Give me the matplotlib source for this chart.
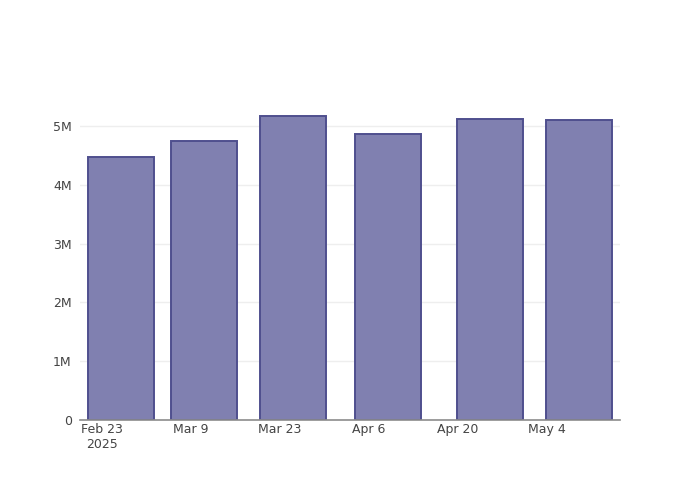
import datetime as dt
import matplotlib
matplotlib.use("Agg")
import matplotlib.pyplot as plt
import matplotlib.dates as mdates

# data
dates = ["2025-02-26", "2025-03-11", "2025-03-25", "2025-04-09", "2025-04-25", "2025-05-09"]
values = [4.47e6, 4.745e6, 5.17e6, 4.864e6, 5.12e6, 5.10e6]
tick_dates = ["2025-02-23", "2025-03-09", "2025-03-23", "2025-04-06", "2025-04-20", "2025-05-04"]
tick_labels = ["Feb 23\n2025", "Mar 9", "Mar 23", "Apr 6", "Apr 20", "May 4"]
y_ticks = [0, 1e6, 2e6, 3e6, 4e6, 5e6]
y_labels = ["0", "1M", "2M", "3M", "4M", "5M"]

x = [dt.datetime.fromisoformat(d) for d in dates]
xt = [dt.datetime.fromisoformat(d) for d in tick_dates]

fig = plt.figure(figsize=(7, 5), dpi=100)
ax = fig.add_axes([80 / 700, 80 / 500, 540 / 700, 320 / 500])

ax.bar(x, values, width=10.4, color="#8080b0", edgecolor="#4f4f8e", linewidth=1.4, zorder=3)

# axes styling
ax.set_ylim(0, 5.44e6)
ax.set_xlim(xt[0] - dt.timedelta(days=3.46), xt[0] + dt.timedelta(days=81.5))
ax.set_yticks(y_ticks)
ax.set_yticklabels(y_labels)
ax.set_xticks(xt)
ax.set_xticklabels(tick_labels, linespacing=1.2)
for lab in ax.get_xticklabels():
    lab.set_verticalalignment("top")
ax.tick_params(axis="both", length=0, labelsize=9, colors="#444444")
ax.tick_params(axis="x", pad=2)
ax.tick_params(axis="y", pad=6)
ax.grid(axis="y", color="#eeeeee", linewidth=1, zorder=0)
for s in ["top", "right", "left"]:
    ax.spines[s].set_visible(False)
ax.spines["bottom"].set_color("#8c8c8c")
ax.spines["bottom"].set_linewidth(1.2)
ax.spines["bottom"].set_zorder(4)

fig.savefig("out.png", dpi=100)
